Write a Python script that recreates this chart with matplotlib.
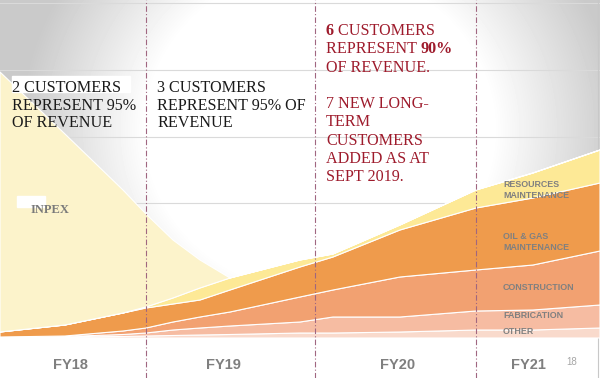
import numpy as np
import matplotlib
matplotlib.use("Agg")
import matplotlib.pyplot as plt

# revenue mix over time (x = position along the FY18..FY21 timeline)
x_pos = [0, 65, 123, 146, 173, 200, 230, 300, 333, 400, 476, 533, 600]
other = [1, 1, 1.5, 2, 2.5, 3, 3.5, 5, 5, 6, 8, 8, 10]
fabrication = [0, 0.5, 2, 3, 5.5, 7, 8.5, 11, 16, 15, 19, 20, 23]
construction = [0, 0.5, 3.5, 5, 8, 11, 14, 25, 27, 40, 41, 45, 54]
oil_gas = [5, 11, 18, 20, 18, 17, 22, 30, 33, 47, 62, 67, 68]
resources = [0, 0, 0, 1, 6, 12, 12, 7, 3, 5, 18, 25, 33]
inpex = [260, 191, 123, 93, 58, 28, 0, 0, 0, 0, 0, 0, 0]

fy_labels = ["FY18", "FY19", "FY20", "FY21"]
fy_pos = [70, 223, 398, 528]
period_breaks = [146, 315, 476]

W, H = 600, 378
BASE = 338  # pixel row of the zero line


def fpos(px, py):
    return px / W, 1 - py / H


def rich_line(fig, runs, px, py, **kw):
    renderer = fig.canvas.get_renderer()
    for s, weight in runs:
        t = fig.text(*fpos(px, py), s, fontweight=weight, va="baseline", **kw)
        px += t.get_window_extent(renderer).width


fig = plt.figure(figsize=(6, 3.78), dpi=100)
ax = fig.add_axes([0, 0, 1, 1])
ax.set_xlim(0, W)
ax.set_ylim(BASE - H, BASE)
ax.axis("off")

# grey slide background, white glow in the middle
X, Y = np.meshgrid(np.arange(W) + 0.5, np.arange(H) + 0.5)
d = np.sqrt(((X - 320) / 280) ** 2 + ((Y - 130) / 260) ** 2)
shade = 1 - 0.21 * np.clip((d - 0.62) / 0.45, 0, 1)
shade[Y > BASE] = 1
ax.imshow(shade, cmap="gray", vmin=0, vmax=1, extent=[0, W, BASE - H, BASE],
          aspect="auto", zorder=0, interpolation="bilinear")

for gy in [3, 70, 137, 203]:
    ax.axhline(BASE - gy, color="#dadada", lw=0.8, zorder=1)
ax.axvline(598, color="#c8c8c8", lw=0.8, zorder=1)

colors = ["#f9dacc", "#f6bca2", "#f2a171", "#ef9b4c", "#fde996", "#fcf3cb"]
ax.stackplot(x_pos, other, fabrication, construction, oil_gas, resources, inpex,
             colors=colors, edgecolor="white", linewidth=0.8, zorder=2)

for xb in period_breaks:
    ax.axvline(xb, color="#a06680", lw=0.8, ls=(0, (5, 2, 1, 2)), zorder=3)

# white highlight boxes behind the notes
ax.add_patch(plt.Rectangle((12, BASE - 92), 118, 16, color="white", zorder=2.5))
ax.add_patch(plt.Rectangle((17, BASE - 207), 28, 11, color="white", zorder=2.5))

serif = "Liberation Serif"
sans = "Liberation Sans"

for i, s in enumerate(["2 CUSTOMERS", "REPRESENT 95%", "OF REVENUE"]):
    fig.text(*fpos(12, 92 + 17.5 * i), s, family=serif, fontsize=11.6,
             color="#1a1a1a", va="baseline", zorder=5)
for i, s in enumerate(["3 CUSTOMERS", "REPRESENT 95% OF", "REVENUE"]):
    fig.text(*fpos(157, 92 + 17.5 * i), s, family=serif, fontsize=11.6,
             color="#1a1a1a", va="baseline", zorder=5)

red = "#9e1b2c"
red_lines = [
    [("6", "bold"), (" CUSTOMERS", "normal")],
    [("REPRESENT ", "normal"), ("90%", "bold")],
    [("OF REVENUE.", "normal")],
    [],
    [("7 NEW LONG-", "normal")],
    [("TERM", "normal")],
    [("CUSTOMERS", "normal")],
    [("ADDED AS AT", "normal")],
    [("SEPT 2019.", "normal")],
]
for i, runs in enumerate(red_lines):
    rich_line(fig, runs, 326, 35 + 18.3 * i, family=serif, fontsize=11.6, color=red)

fig.text(*fpos(31, 213), "INPEX", family=serif, fontsize=9, fontweight="bold",
         color="#7a7a7a", va="baseline")

seg_labels = [("RESOURCES\nMAINTENANCE", 190), ("OIL & GAS\nMAINTENANCE", 242),
              ("CONSTRUCTION", 287), ("FABRICATION", 316), ("OTHER", 332)]
for s, py in seg_labels:
    fig.text(*fpos(503, py), s, family=sans, fontsize=6.4, fontweight="bold",
             color="#808080", va="center", linespacing=1.3)

for s, xp in zip(fy_labels, fy_pos):
    ax.text(xp, BASE - 365, s, family=sans, fontsize=10.5, fontweight="bold",
            color="#7f7f7f", ha="center", va="center")
fig.text(*fpos(572, 362), "18", family=sans, fontsize=7, color="#a6a6a6",
         ha="center", va="center")

fig.savefig("out.png", dpi=100)
